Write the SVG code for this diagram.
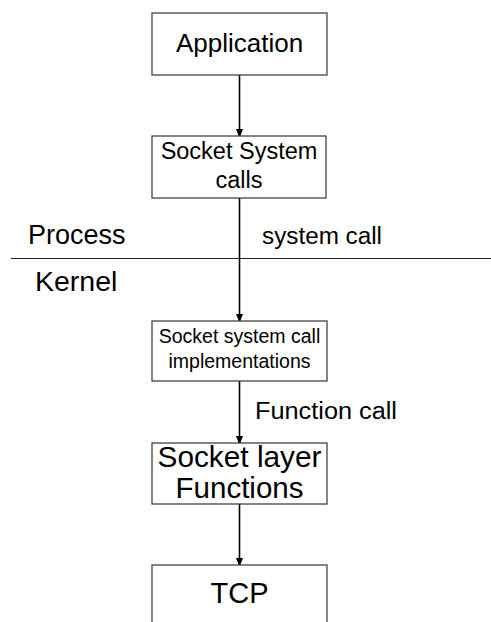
<svg xmlns="http://www.w3.org/2000/svg" width="491" height="622" viewBox="0 0 491 622">
<defs>
<marker id="arr" markerWidth="9" markerHeight="12" refX="8" refY="5" orient="auto" markerUnits="userSpaceOnUse" viewBox="0 0 10 10">
<path d="M0,1 L10,5 L0,9 Z" fill="#000"/>
</marker>
<style>
.box{fill:#fff;stroke:#333;stroke-width:1.2}
.t{font-family:"Liberation Sans",Arial,sans-serif;fill:#000;text-anchor:middle}
.l{font-family:"Liberation Sans",Arial,sans-serif;fill:#000}
.c{stroke:#000;stroke-width:1.6;fill:none;marker-end:url(#arr)}
</style>
</defs>
<rect width="491" height="622" fill="#fff"/>
<g id="connectors">
<line class="c" x1="239.5" y1="75" x2="239.5" y2="136"/>
<line class="c" x1="239.5" y1="198" x2="239.5" y2="321"/>
<line class="c" x1="239.5" y1="381" x2="239.5" y2="443"/>
<line class="c" x1="239.5" y1="504" x2="239.5" y2="565"/>
</g>
<g id="divider">
<line x1="11" y1="258.5" x2="491" y2="258.5" stroke="#222" stroke-width="1"/>
<text class="l" x="28" y="244" font-size="27">Process</text>
<text class="l" x="35" y="291" font-size="28.5">Kernel</text>
</g>
<g id="label-system-call">
<text class="l" x="262" y="244" font-size="23" textLength="120" lengthAdjust="spacingAndGlyphs">system call</text>
</g>
<g id="label-function-call">
<text class="l" x="255" y="419" font-size="23" textLength="142" lengthAdjust="spacingAndGlyphs">Function call</text>
</g>
<g id="application">
<rect class="box" x="152" y="13" width="175" height="62"/>
<text class="t" x="239.5" y="52" font-size="26">Application</text>
</g>
<g id="socket-system-calls">
<rect class="box" x="152" y="136" width="174" height="62"/>
<text class="t" x="239" y="159" font-size="23.5">Socket System</text>
<text class="t" x="239" y="188" font-size="23.5">calls</text>
</g>
<g id="socket-system-call-impl">
<rect class="box" x="152" y="321" width="175" height="60"/>
<text class="t" x="239.5" y="343" font-size="19.5">Socket system call</text>
<text class="t" x="239.5" y="368" font-size="19.5">implementations</text>
</g>
<g id="socket-layer-functions">
<rect class="box" x="152" y="443" width="175" height="61"/>
<text class="t" x="239.5" y="467" font-size="29.8">Socket layer</text>
<text class="t" x="239.5" y="498" font-size="29.5">Functions</text>
</g>
<g id="tcp">
<rect class="box" x="152" y="565" width="175" height="80"/>
<text class="t" x="239.5" y="603" font-size="29">TCP</text>
</g>
</svg>
